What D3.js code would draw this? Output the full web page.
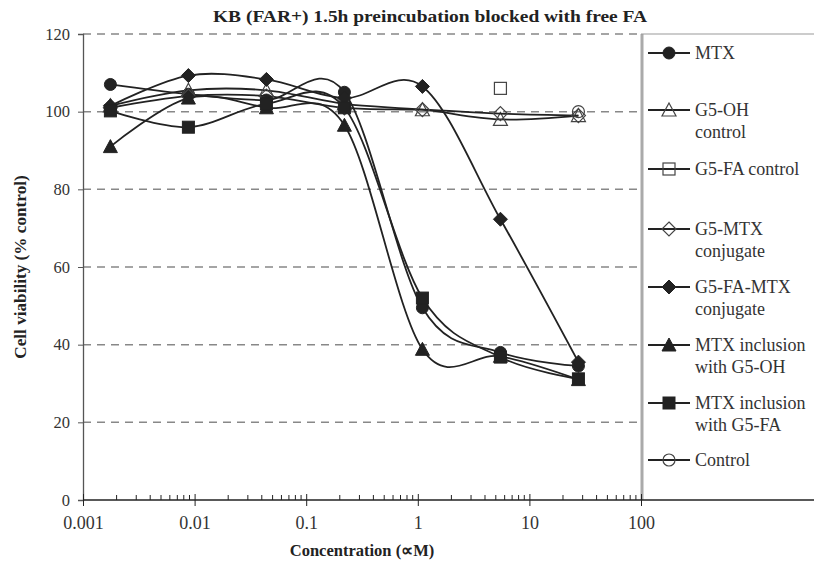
<!DOCTYPE html>
<html><head><meta charset="utf-8">
<script src="https://cdn.jsdelivr.net/npm/d3@7"></script>
<style>body{margin:0;background:#fff}svg{display:block}</style>
</head><body>
<svg id="c" width="814" height="563"></svg>
<script>
const concentrations = [0.00176, 0.0088, 0.044, 0.22, 1.1, 5.5, 27.5];
const mtx          = [107, 104.5, 103, 105, 49.5, 38, 34.5];
const g5ohControl  = [101.5, 105.5, 105.5, 102, 100.5, 98, 99];
const g5faControl  = [null, null, null, null, null, 106, null];
const g5mtxConj    = [101, 104, 104, 101, 100.5, 99.5, 99];
const g5faMtxConj  = [101.5, 109.3, 108.3, 103.5, 106.5, 72.3, 35.5];
const inclG5OH     = [91, 103.5, 101, 96.5, 38.8, 37, 31];
const inclG5FA     = [100.2, 96, 102, 101, 52, 36.8, 31.2];
const control      = [null, null, null, null, null, null, 100];
const seriesNames  = [["MTX"], ["G5-OH", "control"], ["G5-FA control"], ["G5-MTX", "conjugate"],
                      ["G5-FA-MTX", "conjugate"], ["MTX inclusion", "with G5-OH"], ["MTX inclusion", "with G5-FA"], ["Control"]];
const yTicks = [0, 20, 40, 60, 80, 100, 120];
const xTicks = [0.001, 0.01, 0.1, 1, 10, 100];
const xTickLabels = ["0.001", "0.01", "0.1", "1", "10", "100"];
const title = "KB (FAR+) 1.5h preincubation blocked with free FA";
const xTitle = "Concentration (\u221DM)";
const yTitle = "Cell viability (% control)";

const series = [
  {name: seriesNames[0], v: mtx, m: "circle", fill: true},
  {name: seriesNames[1], v: g5ohControl, m: "triangle", fill: false},
  {name: seriesNames[2], v: g5faControl, m: "square", fill: false},
  {name: seriesNames[3], v: g5mtxConj, m: "diamond", fill: false},
  {name: seriesNames[4], v: g5faMtxConj, m: "diamond", fill: true},
  {name: seriesNames[5], v: inclG5OH, m: "triangle", fill: true},
  {name: seriesNames[6], v: inclG5FA, m: "square", fill: true},
  {name: seriesNames[7], v: control, m: "circle", fill: false}
];

const svg = d3.select("#c");
const font = "'Liberation Serif', 'Times New Roman', serif";
const L = 83, R = 641, T = 34, B = 500;
const x = d3.scaleLog().domain([0.001, 100]).range([L, R]);
const y = d3.scaleLinear().domain([0, 120]).range([B, T]);
const ink = "#222";

// title
svg.append("text").attr("x", 430).attr("y", 22).attr("text-anchor", "middle")
  .attr("font-family", font).attr("font-weight", "bold").attr("font-size", 17)
  .attr("textLength", 434).attr("lengthAdjust", "spacingAndGlyphs").attr("fill", ink).text(title);

// grid
svg.append("g").selectAll("line").data(yTicks.filter(d => d > 0)).join("line")
  .attr("x1", L).attr("x2", R).attr("y1", d => y(d)).attr("y2", d => y(d))
  .attr("stroke", "#888").attr("stroke-width", 1.5).attr("stroke-dasharray", "8,6");

// legend frame
svg.append("line").attr("x1", R + 1).attr("x2", R + 1).attr("y1", T).attr("y2", B).attr("stroke", "#aaa").attr("stroke-width", 3);
svg.append("line").attr("x1", R).attr("x2", 814).attr("y1", T).attr("y2", T).attr("stroke", "#999").attr("stroke-width", 1.2);

// y axis
const yAxis = svg.append("g").attr("transform", `translate(${L},0)`)
  .call(d3.axisLeft(y).tickValues(yTicks).tickSize(5).tickPadding(8).tickFormat(d3.format("d")));
yAxis.select(".domain").attr("stroke", "#555").attr("stroke-width", 1.3);
yAxis.selectAll(".tick line").attr("stroke", "#555");
yAxis.selectAll("text").attr("font-family", font).attr("font-size", 16.5).attr("fill", "#333");

// x axis
const xAxis = svg.append("g").attr("transform", `translate(0,${B})`)
  .call(d3.axisBottom(x).tickValues(xTicks).tickSizeInner(6).tickSizeOuter(0).tickPadding(10)
    .tickFormat((d, i) => xTickLabels[i]));
xAxis.select(".domain").remove();
xAxis.selectAll(".tick line").attr("y1", -6).attr("y2", 6).attr("stroke", ink);
xAxis.selectAll("text").attr("font-family", font).attr("font-size", 18).attr("fill", "#333");
svg.append("line").attr("x1", L).attr("x2", 814).attr("y1", B).attr("y2", B).attr("stroke", ink).attr("stroke-width", 1.3);
const minor = x.ticks().filter(d => !xTicks.some(t => Math.abs(t - d) / t < 1e-6));
svg.append("g").selectAll("line").data(minor).join("line")
  .attr("x1", d => x(d)).attr("x2", d => x(d)).attr("y1", B).attr("y2", B - 5).attr("stroke", ink);

// axis titles
svg.append("text").attr("x", 362).attr("y", 556).attr("text-anchor", "middle")
  .attr("font-family", font).attr("font-weight", "bold").attr("font-size", 16.5).attr("fill", ink).text(xTitle);
svg.append("text").attr("transform", `translate(26,${(T + B) / 2}) rotate(-90)`).attr("text-anchor", "middle")
  .attr("font-family", font).attr("font-weight", "bold").attr("font-size", 17.2).attr("fill", ink).text(yTitle);

// marker
function marker(g, type, fill, cx, cy) {
  const sw = fill ? 1 : 1.2;
  const f = fill ? ink : "none";
  const st = fill ? ink : "#444";
  if (type === "circle") g.append("circle").attr("cx", cx).attr("cy", cy).attr("r", 6).attr("fill", f).attr("stroke", st).attr("stroke-width", sw);
  else if (type === "square") g.append("rect").attr("x", cx - 6).attr("y", cy - 6).attr("width", 12).attr("height", 12).attr("fill", f).attr("stroke", st).attr("stroke-width", sw);
  else if (type === "diamond") g.append("path").attr("d", `M${cx},${cy - 7}L${cx + 7},${cy}L${cx},${cy + 7}L${cx - 7},${cy}Z`).attr("fill", f).attr("stroke", st).attr("stroke-width", sw);
  else if (type === "triangle") g.append("path").attr("d", `M${cx},${cy - 7}L${cx + 7},${cy + 6}L${cx - 7},${cy + 6}Z`).attr("fill", f).attr("stroke", st).attr("stroke-width", sw);
}

const line = d3.line().defined(d => d[1] != null).x(d => x(d[0])).y(d => y(d[1])).curve(d3.curveCardinal.tension(0));
const plot = svg.append("g");
series.forEach(s => {
  const pts = concentrations.map((c, i) => [c, s.v[i]]);
  plot.append("path").attr("d", line(pts)).attr("fill", "none").attr("stroke", ink).attr("stroke-width", 1.8);
  const g = plot.append("g");
  pts.filter(p => p[1] != null).forEach(p => marker(g, s.m, s.fill, x(p[0]), y(p[1])));
});

// legend
const legY = [53, 110, 169, 229, 287, 345, 403, 460];
const leg = svg.append("g");
series.forEach((s, i) => {
  const yy = legY[i];
  leg.append("line").attr("x1", 648).attr("x2", 690).attr("y1", yy).attr("y2", yy).attr("stroke", ink).attr("stroke-width", 1.8);
  marker(leg, s.m, s.fill, 669, yy);
  s.name.forEach((t, j) => {
    leg.append("text").attr("x", 695).attr("y", yy + 6 + j * 22).attr("font-family", font).attr("font-size", 18).attr("fill", "#333").text(t);
  });
});
</script>
</body></html>
